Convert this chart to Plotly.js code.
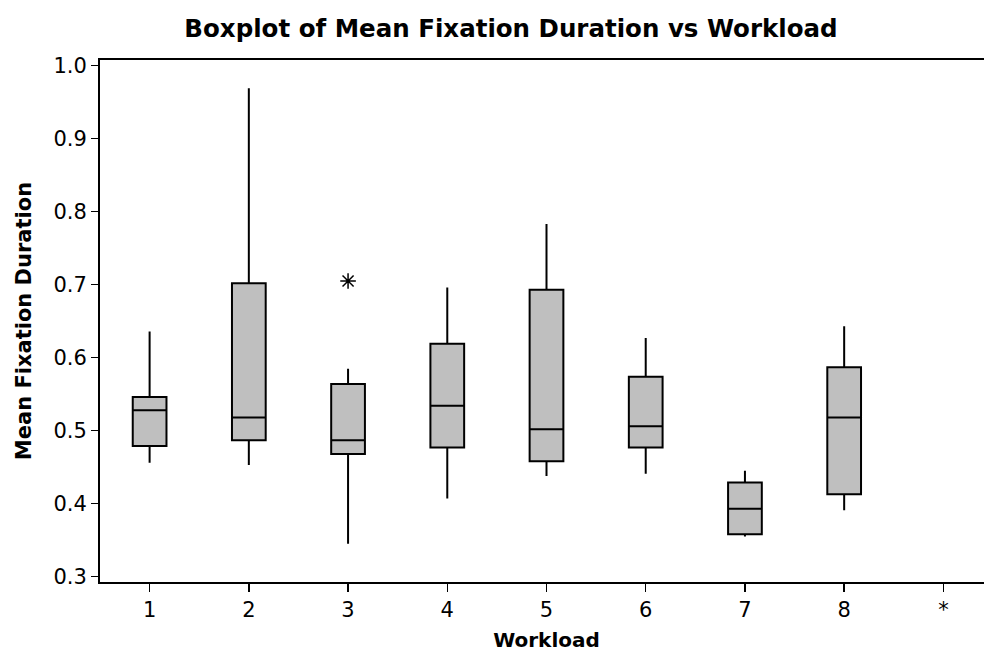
<!DOCTYPE html>
<html>
<head>
<meta charset="utf-8">
<script src="https://cdn.plot.ly/plotly-3.0.1.min.js"></script>
<style>
  html, body { margin: 0; padding: 0; overflow: hidden; background: #ffffff; }
</style>
</head>
<body>
<div id="chart" style="width:993px;height:653px;"></div>
<script>
// Workload levels (the last slot, "*", holds missing workload codes and has no data)
const workload = [1, 2, 3, 4, 5, 6, 7, 8];
const tickPositions = [1, 2, 3, 4, 5, 6, 7, 8, 9];
const tickLabels = ['1', '2', '3', '4', '5', '6', '7', '8', '*'];

// Five-number summaries of mean fixation duration per workload
const upperWhisker = [0.636, 0.969, 0.585, 0.696, 0.783, 0.627, 0.445, 0.643];
const q3Values     = [0.546, 0.702, 0.564, 0.619, 0.693, 0.574, 0.429, 0.587];
const medianValues = [0.528, 0.518, 0.487, 0.534, 0.502, 0.506, 0.393, 0.518];
const q1Values     = [0.479, 0.487, 0.468, 0.477, 0.458, 0.477, 0.358, 0.413];
const lowerWhisker = [0.456, 0.453, 0.345, 0.407, 0.438, 0.441, 0.355, 0.391];

// Outliers
const outlierX = [3];
const outlierY = [0.705];

const FONT = 'DejaVu Sans, Verdana, sans-serif';

const boxes = {
  type: 'box',
  x: workload,
  q1: q1Values,
  median: medianValues,
  q3: q3Values,
  lowerfence: lowerWhisker,
  upperfence: upperWhisker,
  boxpoints: false,
  width: 0.34,
  whiskerwidth: 0,
  fillcolor: '#bfbfbf',
  line: { color: '#000000', width: 2 },
  hoverinfo: 'skip',
  showlegend: false
};

const outliers = {
  type: 'scatter',
  mode: 'markers',
  x: outlierX,
  y: outlierY,
  marker: {
    symbol: 'asterisk-open',
    size: 13,
    color: '#000000',
    line: { color: '#000000', width: 1.5 }
  },
  hoverinfo: 'skip',
  showlegend: false
};

const layout = {
  width: 993,
  height: 653,
  paper_bgcolor: '#ffffff',
  plot_bgcolor: '#ffffff',
  margin: { l: 100, r: 0, t: 60, b: 71 },
  font: { family: FONT, color: '#000000' },
  title: {
    text: 'Boxplot of Mean Fixation Duration vs Workload',
    font: { family: FONT, size: 24.5, weight: 'bold', color: '#000000' },
    xref: 'container', yref: 'container',
    x: 511 / 993, xanchor: 'center',
    y: 1 - 28 / 653, yanchor: 'middle'
  },
  xaxis: {
    type: 'linear',
    range: [0.5, 9.5],
    tickmode: 'array',
    tickvals: tickPositions,
    ticktext: tickLabels,
    ticks: 'outside',
    ticklen: 8,
    tickwidth: 1.5,
    tickcolor: '#000000',
    tickfont: { family: FONT, size: 21, color: '#000000' },
    showgrid: false,
    zeroline: false,
    showline: true,
    linecolor: '#000000',
    linewidth: 2,
    mirror: true,
    title: {
      text: 'Workload',
      font: { family: FONT, size: 20, weight: 'bold', color: '#000000' },
      standoff: 12
    }
  },
  yaxis: {
    range: [0.2927, 1.0078],
    tickmode: 'array',
    tickvals: [0.3, 0.4, 0.5, 0.6, 0.7, 0.8, 0.9, 1.0],
    ticktext: ['0.3', '0.4', '0.5', '0.6', '0.7', '0.8', '0.9', '1.0'],
    ticks: 'outside',
    ticklen: 7,
    tickwidth: 1.5,
    tickcolor: '#000000',
    tickfont: { family: FONT, size: 21, color: '#000000' },
    showgrid: false,
    zeroline: false,
    showline: true,
    linecolor: '#000000',
    linewidth: 2,
    mirror: true,
    title: {
      text: 'Mean Fixation Duration',
      font: { family: FONT, size: 21, weight: 'bold', color: '#000000' },
      standoff: 16
    }
  }
};

Plotly.newPlot('chart', [boxes, outliers], layout, { displayModeBar: false, staticPlot: true });
</script>
</body>
</html>
